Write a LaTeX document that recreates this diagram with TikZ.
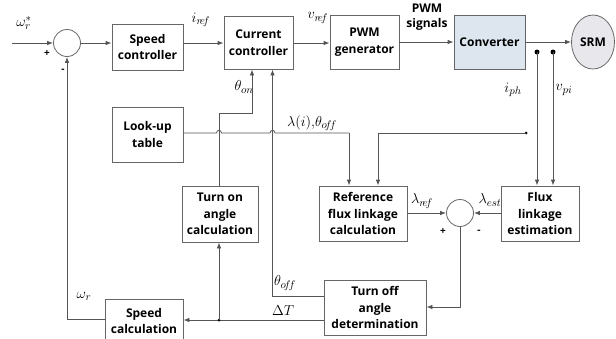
\documentclass[tikz,border=0pt]{standalone}
\usepackage{fontspec}
\setmainfont{Open Sans}
\usetikzlibrary{arrows.meta,shapes.geometric}
\definecolor{ln}{HTML}{555555}
\definecolor{bd}{HTML}{666666}
\definecolor{convfill}{HTML}{DDE6EE}
\definecolor{srmfill}{HTML}{E8E8EC}
\tikzset{
  blk/.style={draw=bd, line width=0.8pt, align=center, font=\fontsize{12}{16.5}\selectfont\bfseries, inner sep=1pt},
  sumc/.style={draw=bd, line width=0.8pt, circle, minimum size=27pt, inner sep=0pt},
  wire/.style={draw=ln, line width=0.8pt},
  arr/.style={wire, -{Latex[length=6pt,width=4.5pt]}},
  lbl/.style={font=\fontsize{15}{17}\selectfont, inner sep=0pt},
  sgn/.style={font=\fontsize{10}{12}\selectfont\bfseries, inner sep=0pt},
  dotc/.style={circle, fill=black, inner sep=0pt, minimum size=5pt},
  sdot/.style={circle, fill=black, inner sep=0pt, minimum size=3pt},
}
\begin{document}
\begin{tikzpicture}[x=1pt,y=-1pt]
\clip (0,0) rectangle (616,338);
\fill[white] (0,0) rectangle (616,338);
% blocks
\node[sumc] (c1) at (67,43) {};
\node[blk, minimum width=71pt, minimum height=46pt] (spc) at (147.5,47) {Speed\\controller};
\node[blk, minimum width=69pt, minimum height=53pt] (cur) at (258.5,42.5) {Current\\controller};
\node[blk, minimum width=69pt, minimum height=54pt] (pwm) at (364.5,42) {PWM\\generator};
\node[blk, fill=convfill, minimum width=71pt, minimum height=54pt] (conv) at (489.5,42) {Converter};
\node[draw=bd, line width=0.8pt, fill=srmfill, ellipse, minimum width=43pt, minimum height=54pt, inner sep=0pt, font=\fontsize{12}{13}\selectfont\bfseries] (srm) at (593,42) {SRM};
\node[blk, minimum width=71pt, minimum height=55pt] (lut) at (147.5,134.5) {Look-up\\table};
\node[blk, minimum width=76pt, minimum height=56pt] (ton) at (220,214) {Turn on\\angle\\calculation};
\node[blk, minimum width=88pt, minimum height=55pt] (ref) at (363,213.5) {Reference\\flux linkage\\calculation};
\node[sumc] (c2) at (460,213) {};
\node[blk, minimum width=78pt, minimum height=55pt] (flux) at (540,213.5) {Flux\\linkage\\estimation};
\node[blk, minimum width=102pt, minimum height=55pt] (toff) at (375,307.5) {Turn off\\angle\\determination};
\node[blk, minimum width=78pt, minimum height=44pt] (spcal) at (144,321) {Speed\\calculation};
% coordinates
\coordinate (in) at (12,43);
\coordinate (d1) at (537,52);
\coordinate (d2) at (553,52);
\coordinate (d3) at (526,133);
\coordinate (jn) at (219,320);
% top chain
\draw[arr] (in) -- (c1.west);
\draw[arr] (c1.east) -- (c1.east -| spc.west);
\draw[arr] (spc.east |- c1.east) -- (c1.east -| cur.west);
\draw[arr] (cur.east |- 0,43) -- (pwm.west |- 0,43);
\draw[arr] (pwm.east |- 0,42) -- (conv.west |- 0,42);
\draw[arr] (conv.east) -- (srm.west);
% measurements
\node[dotc] at (d1) {};
\node[dotc] at (d2) {};
\draw[arr] (d1) -- (d1 |- flux.north);
\draw[arr] (d2) -- (d2 |- flux.north);
\node[sdot] at (d3) {};
\draw[arr] (d3) -- (378,133) -- (378,133 |- ref.north);
% lookup output with hop-overs
\draw[wire] (lut.east |- 0,133) -- (216.5,133) .. controls (216.5,129.5) and (221.5,129.5) .. (221.5,133)
  -- (270,133) .. controls (270,129.5) and (275,129.5) .. (275,133) -- (349,133);
\draw[arr] (349,133) -- (349,133 |- ref.north);
% theta on
\draw[arr] (ton.north -| 219,0) -- (219,113) -- (252,113) -- (252,113 |- cur.south);
% theta off
\draw[arr] (toff.west |- 0,296) -- (272.5,296) -- (272.5,296 |- cur.south);
% delta T
\draw[arr] (toff.west |- 0,320) -- (spcal.east |- 0,320);
\node[sdot] at (jn) {};
\draw[arr] (jn) -- (jn |- ton.south);
% omega_r feedback
\draw[arr] (spcal.west |- 0,319) -- (67,319) -- (c1.south);
% flux comparison
\draw[arr] (ref.east |- c2.west) -- (c2.west);
\draw[arr] (flux.west |- c2.east) -- (c2.east);
\draw[arr] (c2.south) -- (460,307) -- (toff.east |- 0,307);
% labels
\node[lbl] at (24,23) {$\omega_r^{*}$};
\node[sgn] at (47,54) {+};
\node[sgn] at (63,71) {-};
\node[lbl] at (201,20) {$i_{r\!e\!f}$};
\node[lbl] at (318,18) {$v_{r\!e\!f}$};
\node[align=center, inner sep=0pt, font=\fontsize{12}{15}\selectfont\bfseries] at (427,17) {PWM\\signals};
\node[lbl] at (244,87) {$\theta_{on}$};
\node[lbl] at (312,123) {$\lambda(i){,}\theta_{o\!f\!f}$};
\node[lbl] at (513,90) {$i_{ph}$};
\node[lbl] at (564,90) {$v_{pi}$};
\node[lbl] at (422,201) {$\lambda_{r\!e\!f}$};
\node[lbl] at (490,200) {$\lambda_{est}$};
\node[sgn] at (443,232) {+};
\node[sgn] at (479,232) {-};
\node[lbl] at (285,283) {$\theta_{o\!f\!f}$};
\node[lbl] at (283,311) {$\Delta T$};
\node[lbl] at (84,296) {$\omega_r$};
\end{tikzpicture}
\end{document}
